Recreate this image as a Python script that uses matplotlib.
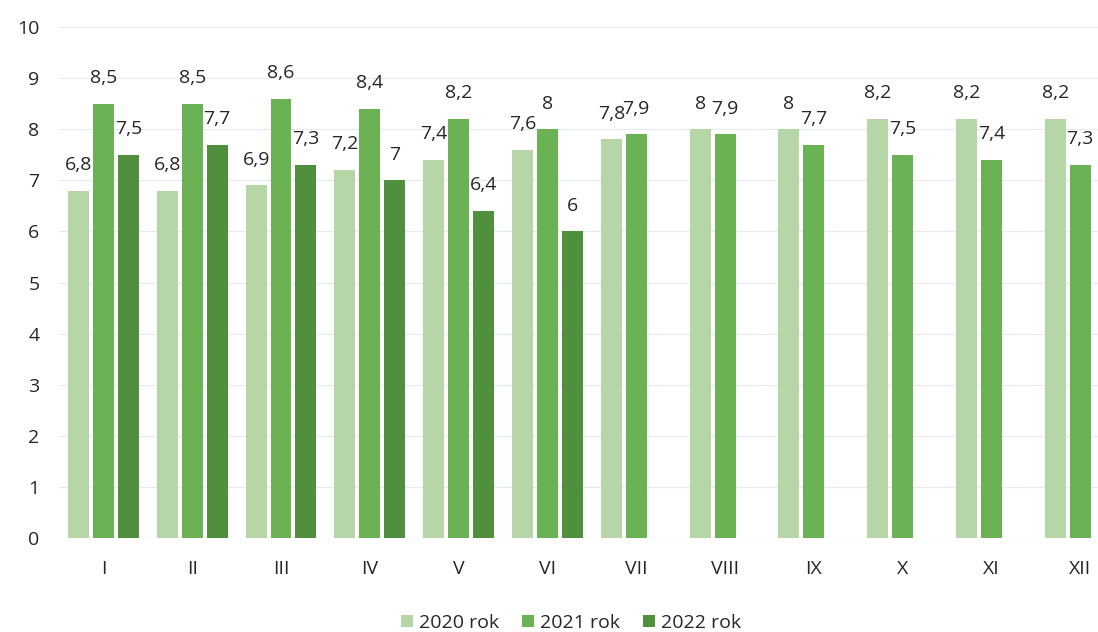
import matplotlib
matplotlib.use("Agg")
import matplotlib.pyplot as plt
import numpy as np

months = ["I", "II", "III", "IV", "V", "VI", "VII", "VIII", "IX", "X", "XI", "XII"]
series_names = ["2020 rok", "2021 rok", "2022 rok"]
v2020 = [6.8, 6.8, 6.9, 7.2, 7.4, 7.6, 7.8, 8, 8, 8.2, 8.2, 8.2]
v2021 = [8.5, 8.5, 8.6, 8.4, 8.2, 8, 7.9, 7.9, 7.7, 7.5, 7.4, 7.3]
v2022 = [7.5, 7.7, 7.3, 7, 6.4, 6, None, None, None, None, None, None]
colors = ["#b6d6a8", "#6bb254", "#4f8f3d"]

plt.rcParams['font.family'] = ['Open Sans', 'DejaVu Sans']
fig = plt.figure(figsize=(10.98, 6.32), dpi=100)
ax = fig.add_axes([59/1098, (632-538)/632, 1-59/1098, (538-27)/632])

x = np.arange(len(months))
w = 0.236
off = 0.28
txtc = "#262626"

def fmt(v):
    return ("%g" % v).replace(".", ",")

for i, (vals, name, c) in enumerate(zip([v2020, v2021, v2022], series_names, colors)):
    xs = [xi + (i - 1) * off for xi, v in zip(x, vals) if v is not None]
    ys = [v for v in vals if v is not None]
    ax.bar(xs, ys, width=w, color=c, label=name, zorder=2)
    for xx, yy in zip(xs, ys):
        ax.annotate(fmt(yy), (xx, yy), xytext=(0, 12), textcoords="offset points",
                    ha="center", va="bottom", fontsize=14, color=txtc)

ax.set_xlim(-0.5, 11.2)
ax.set_ylim(0, 10)
ax.set_yticks(range(0, 11))
ax.set_xticks(x)
ax.set_xticklabels(months)
ax.grid(axis="y", color="#e3eaf0", linewidth=0.8, zorder=0)
for s in ax.spines.values():
    s.set_visible(False)
ax.tick_params(axis="both", length=0, labelsize=14, colors=txtc)
ax.tick_params(axis="y", pad=14)
ax.tick_params(axis="x", pad=16)

fig.legend(loc="center", bbox_to_anchor=(0.52, 0.014), ncol=3, frameon=False,
           fontsize=14, handlelength=0.6, handleheight=0.6, columnspacing=1.2,
           handletextpad=0.3, labelcolor=txtc)

fig.savefig("out.png", dpi=100)
